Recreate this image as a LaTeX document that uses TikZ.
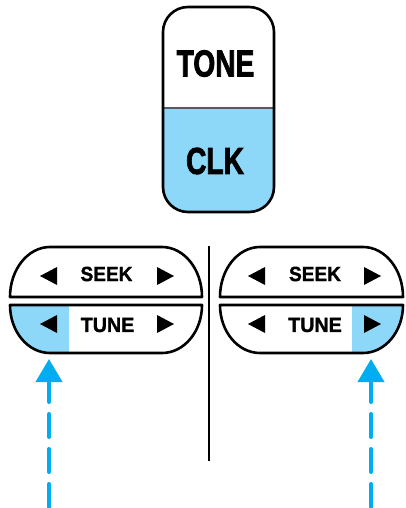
\documentclass[tikz,border=0pt]{standalone}
\usepackage{fontspec}
\setmainfont{Liberation Sans}
\newfontfamily\heavyfont[FakeBold=2.5]{Liberation Sans Bold}
\newfontfamily\medfont[FakeBold=1.5]{Liberation Sans Bold}
\usetikzlibrary{arrows.meta}
\definecolor{lblue}{HTML}{8DD8F8}
\definecolor{cyanarrow}{HTML}{00AEEF}
\newcommand{\upperhalf}[2]{(#1,297) -- (#2,297) .. controls (#2,269.4) and (#2-17.9,247) .. (#2-40,247) -- (#1+40,247) .. controls (#1+17.9,247) and (#1,269.4) .. (#1,297) -- cycle}
\newcommand{\lowerhalf}[2]{(#1,305) -- (#2,305) .. controls (#2,331.5) and (#2-17.9,353) .. (#2-40,353) -- (#1+40,353) .. controls (#1+17.9,353) and (#1,331.5) .. (#1,305) -- cycle}
\newcommand{\lefttri}[3]{\fill (#1,#3) -- (#2,#3-9) -- (#2,#3+9) -- cycle;}
\newcommand{\righttri}[3]{\fill (#2,#3) -- (#1,#3-9) -- (#1,#3+9) -- cycle;}
\begin{document}
\begin{tikzpicture}[x=1pt,y=-1pt,
  outline/.style={draw=black,line width=2.6pt,line join=round},
  bigtxt/.style={inner sep=0pt,font=\heavyfont\fontsize{37.5}{40}\selectfont},
  smalltxt/.style={inner sep=0pt,font=\medfont\fontsize{20.5}{24}\selectfont},
  hint/.style={draw=cyanarrow,line width=4pt,line cap=round,dash pattern=on 23pt off 12pt,
    -{Triangle[length=23pt,width=26pt,line cap=butt]}}]
\useasboundingbox (0,0) rectangle (406,508);
% top key
\begin{scope}
\clip[rounded corners=25pt] (163,7) rectangle (274,212);
\fill[lblue] (150,108) rectangle (290,220);
\end{scope}
\draw[line width=1.5pt,black!65] (164,108) -- (273,108);
\draw[outline,rounded corners=25pt] (163,7) rectangle (274,212);
\node[bigtxt] (tone) at (215.5,63.5) {\scalebox{0.75}[1]{TONE}};
\node[bigtxt] (clk) at (215,161) {\scalebox{0.75}[1]{CLK}};
% left button
\begin{scope}
\clip \lowerhalf{10}{202};
\fill[lblue] (0,300) rectangle (69,360);
\end{scope}
\draw[outline] \upperhalf{10}{202};
\draw[outline] \lowerhalf{10}{202};
\lefttri{40}{57}{276}
\righttri{157}{174}{276}
\lefttri{40}{57}{324}
\righttri{157}{174}{324}
\node[smalltxt] (seekL) at (106.5,274) {\scalebox{0.93}[1]{SEEK}};
\node[smalltxt] (tuneL) at (107.5,325) {\scalebox{0.96}[1]{TUNE}};
% right button
\begin{scope}
\clip \lowerhalf{220}{403};
\fill[lblue] (352,300) rectangle (410,360);
\end{scope}
\draw[outline] \upperhalf{220}{403};
\draw[outline] \lowerhalf{220}{403};
\lefttri{248}{265}{276}
\righttri{364}{381}{276}
\lefttri{248}{265}{324}
\righttri{364}{381}{324}
\node[smalltxt] (seekR) at (315,274) {\scalebox{0.93}[1]{SEEK}};
\node[smalltxt] (tuneR) at (315,325) {\scalebox{0.96}[1]{TUNE}};
% separator
\coordinate (sepT) at (209,246);
\coordinate (sepB) at (209,461);
\draw[line width=2.5pt] (sepT) -- (sepB);
% arrows
\coordinate (la0) at (49,507);
\coordinate (la1) at (49,359);
\coordinate (ra0) at (371,507);
\coordinate (ra1) at (371,359);
\draw[hint] (la0) -- (la1);
\draw[hint] (ra0) -- (ra1);
\end{tikzpicture}
\end{document}
